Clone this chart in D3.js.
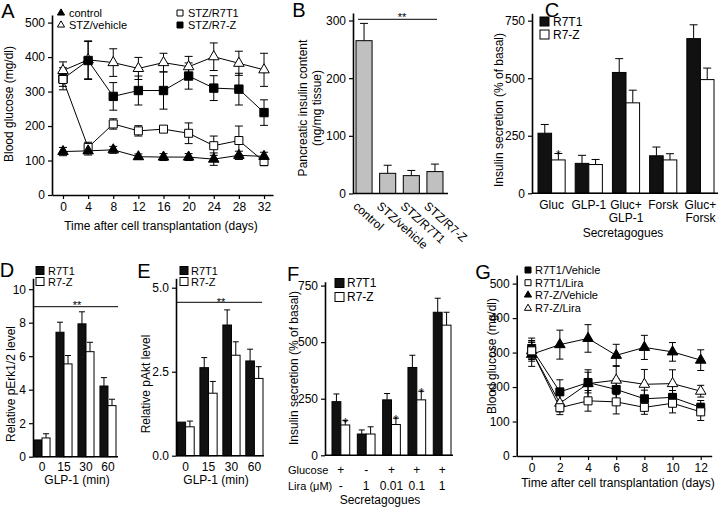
<!DOCTYPE html>
<html><head><meta charset="utf-8">
<script src="https://cdn.jsdelivr.net/npm/d3@7"></script>
<style>
body{margin:0;background:#fff;}
svg{font-family:"Liberation Sans",Arial,Helvetica,sans-serif;}
</style></head><body>
<svg id="chart" width="720" height="507"></svg>
<script>
// ---------- DATA ----------
// Panel A
const daysA = [0, 4, 8, 12, 16, 20, 24, 28, 32];
const aControl = [126, 128, 131, 111, 110, 110, 104, 115, 112];
const aControlErr = [12, 12, 10, 8, 10, 10, 18, 12, 12];
const aVehicle = [361, 392, 384, 367, 384, 372, 401, 382, 363];
const aVehicleErr = [25, 55, 40, 32, 27, 30, 40, 35, 48];
const aR7T1 = [335, 138, 206, 186, 191, 179, 143, 158, 97];
const aR7T1Err = [20, 15, 15, 15, 8, 30, 28, 42, 12];
const aR7Z = [337, 390, 286, 303, 303, 345, 310, 307, 239];
const aR7ZErr = [32, 55, 40, 42, 54, 38, 36, 46, 37];
const aTicksY = [0, 100, 200, 300, 400, 500];

// Panel B
const bCats = ["control", "STZ/vehicle", "STZ/R7T1", "STZ/R7-Z"];
const bVals = [265, 35, 31, 38];
const bErr = [30, 14, 9, 13];
const bTicksY = [0, 100, 200, 300];

// Panel C
const cCats = ["Gluc", "GLP-1", "Gluc+|GLP-1", "Forsk", "Gluc+|Forsk"];
const cR7T1 = [261, 130, 525, 163, 672];
const cR7T1Err = [38, 35, 60, 38, 60];
const cR7Z = [145, 125, 393, 145, 494];
const cR7ZErr = [28, 22, 55, 27, 50];
const cStar = [true, false, false, false, false];
const cTicksY = [0, 250, 500, 750];

// Panel D
const dTimes = ["0", "15", "30", "60"];
const dR7T1 = [1.0, 7.43, 7.93, 4.22];
const dR7T1Err = [0, 0.6, 0.72, 0.5];
const dR7Z = [1.12, 5.54, 6.27, 3.05];
const dR7ZErr = [0.25, 0.5, 0.56, 0.38];
const dTicksY = [0, 2, 4, 6, 8, 10];

// Panel E
const eTimes = ["0", "15", "30", "60"];
const eR7T1 = [1.0, 2.62, 3.89, 2.82];
const eR7T1Err = [0, 0.3, 0.45, 0.35];
const eR7Z = [0.86, 1.86, 2.99, 2.3];
const eR7ZErr = [0.17, 0.35, 0.4, 0.35];
const eTicksY = [0, 2.5, 5.0];

// Panel F
const fGlucose = ["+", "-", "+", "+", "+"];
const fLira = ["-", "1", "0.01", "0.1", "1"];
const fR7T1 = [237, 94, 245, 388, 632];
const fR7T1Err = [34, 18, 28, 54, 62];
const fR7Z = [134, 94, 136, 245, 575];
const fR7ZErr = [19, 32, 28, 38, 57];
const fStar = [true, false, true, true, false];
const fTicksY = [0, 250, 500, 750];

// Panel G
const daysG = [0, 2, 4, 6, 8, 10, 12];
const gR7T1Veh = [312, 186, 213, 193, 166, 170, 141];
const gR7T1VehErr = [30, 35, 30, 30, 25, 20, 20];
const gR7T1Lira = [305, 140, 160, 157, 141, 153, 128];
const gR7T1LiraErr = [25, 20, 30, 35, 20, 28, 25];
const gR7ZVeh = [295, 323, 341, 292, 315, 302, 278];
const gR7ZVehErr = [35, 42, 40, 32, 35, 27, 30];
const gR7ZLira = [305, 153, 210, 220, 208, 210, 188];
const gR7ZLiraErr = [30, 25, 40, 42, 43, 40, 17];
const gTicksY = [0, 100, 200, 300, 400, 500];

// ---------- HELPERS ----------
const FONT = '"Liberation Sans", Arial, Helvetica, sans-serif';
const FS = 12;
const svg = d3.select("#chart");

function styleAxis(ax) {
  ax.attr("font-family", FONT).attr("font-size", FS);
  ax.select(".domain").attr("stroke", "#000").attr("stroke-width", 1.6);
  ax.selectAll(".tick line").attr("stroke", "#000").attr("stroke-width", 1.2);
  ax.selectAll(".tick text").attr("fill", "#000");
}
function yAxis(y, x0, ticks, fmt) {
  const ax = svg.append("g").attr("transform", `translate(${x0},0)`)
    .call(d3.axisLeft(y).tickValues(ticks).tickSize(4).tickSizeOuter(0).tickPadding(3)
      .tickFormat(fmt || d3.format("d")));
  styleAxis(ax);
  return ax;
}
function hLine(x1, x2, yv, w) {
  svg.append("line").attr("x1", x1).attr("x2", x2).attr("y1", yv).attr("y2", yv)
    .attr("stroke", "#000").attr("stroke-width", w || 1.6);
}
function txt(x, y, s, opt) {
  opt = opt || {};
  const t = svg.append("text").attr("x", x).attr("y", y).text(s)
    .attr("font-size", opt.size || FS).attr("fill", "#000")
    .attr("text-anchor", opt.anchor || "start");
  if (opt.rot) t.attr("transform", `rotate(${opt.rot},${x},${y})`);
  return t;
}
function panelLetter(x, y, s) { txt(x, y, s, {size: 20, anchor: "middle"}); }
function yTitle(x, y, s) { txt(x, y, s, {anchor: "middle", rot: -90}).attr("dy", "0.35em"); }

function errUp(cx, yTop, yBot, w) {
  svg.append("line").attr("x1", cx).attr("x2", cx).attr("y1", yBot).attr("y2", yTop)
    .attr("stroke", "#000").attr("stroke-width", 1);
  svg.append("line").attr("x1", cx - w / 2).attr("x2", cx + w / 2).attr("y1", yTop).attr("y2", yTop)
    .attr("stroke", "#000").attr("stroke-width", 1);
}

function groupedBars(xb, y, cats, series, capW, stars) {
  const xs = d3.scaleBand().domain(d3.range(series.length)).range([0, xb.bandwidth()]);
  series.forEach((s, si) => {
    cats.forEach((c, i) => {
      const v = s.vals[i], e = s.err[i];
      const cx = xb(c) + xs(si) + xs.bandwidth() / 2;
      if (e > 0) errUp(cx, y(v + e), y(v), capW);
      if (stars && si === 1 && stars[i]) {
        txt(cx, y(v + e) + 6, "*", {size: 12, anchor: "middle"});
      }
    });
    svg.append("g").selectAll("rect").data(s.vals).join("rect")
      .attr("x", (d, i) => xb(cats[i]) + xs(si))
      .attr("y", d => y(d))
      .attr("width", xs.bandwidth())
      .attr("height", d => y(0) - y(d))
      .attr("fill", s.fill).attr("stroke", "#000").attr("stroke-width", 1);
  });
  return xs;
}

function linePanel(x, y, days, series, capW) {
  series.forEach(s => {
    days.forEach((d, i) => {
      const cx = x(d);
      const y1 = y(s.vals[i] + s.err[i]), y2 = y(s.vals[i] - s.err[i]);
      svg.append("line").attr("x1", cx).attr("x2", cx).attr("y1", y1).attr("y2", y2)
        .attr("stroke", "#000").attr("stroke-width", 1);
      [y1, y2].forEach(yy => svg.append("line").attr("x1", cx - capW / 2).attr("x2", cx + capW / 2)
        .attr("y1", yy).attr("y2", yy).attr("stroke", "#000").attr("stroke-width", 1));
    });
  });
  series.forEach(s => {
    svg.append("path").datum(s.vals)
      .attr("d", d3.line().x((d, i) => x(days[i])).y(d => y(d)))
      .attr("fill", "none").attr("stroke", "#000").attr("stroke-width", 1);
  });
  series.forEach(s => {
    svg.append("g").selectAll("path").data(s.vals).join("path")
      .attr("transform", (d, i) => `translate(${x(days[i])},${y(d)})`)
      .attr("d", d3.symbol().type(s.sym).size(s.size))
      .attr("fill", s.fill).attr("stroke", "#000").attr("stroke-width", 1);
  });
}
function legendSym(x, y, sym, size, fill, label, tx, fs) {
  svg.append("path").attr("transform", `translate(${x},${y})`)
    .attr("d", d3.symbol().type(sym).size(size))
    .attr("fill", fill).attr("stroke", "#000").attr("stroke-width", 1);
  txt(tx, y + 4, label, {size: fs || FS});
}
function legendRect(x, y, s, fill, label, tx, fs) {
  svg.append("rect").attr("x", x).attr("y", y - s / 2).attr("width", s).attr("height", s)
    .attr("fill", fill).attr("stroke", "#000").attr("stroke-width", 1);
  txt(tx, y + 4, label, {size: fs || FS});
}

// ---------- PANEL A ----------
{
  const x = d3.scaleLinear().domain([-1.75, 33.43]).range([52, 273]);
  const y = d3.scaleLinear().domain([0, 522]).range([195, 15]);
  yAxis(y, 52, aTicksY);
  const ax = svg.append("g").attr("transform", "translate(0,195)")
    .call(d3.axisBottom(x).tickValues(daysA).tickSize(4).tickSizeOuter(0).tickPadding(3));
  styleAxis(ax);
  linePanel(x, y, daysA, [
    {vals: aVehicle, err: aVehicleErr, sym: d3.symbolTriangle, size: 48, fill: "#fff"},
    {vals: aR7Z, err: aR7ZErr, sym: d3.symbolSquare, size: 70, fill: "#000"},
    {vals: aR7T1, err: aR7T1Err, sym: d3.symbolSquare, size: 64, fill: "#fff"},
    {vals: aControl, err: aControlErr, sym: d3.symbolTriangle, size: 48, fill: "#000"}
  ], 8);
  panelLetter(8, 18, "A");
  yTitle(9, 104, "Blood glucose (mg/dl)");
  txt(161, 230, "Time after cell transplantation (days)", {anchor: "middle"});
  legendSym(61, 13, d3.symbolTriangle, 22, "#000", "control", 69, 11);
  legendSym(61, 25, d3.symbolTriangle, 22, "#fff", "STZ/vehicle", 69, 11);
  legendSym(180, 13, d3.symbolSquare, 36, "#fff", "STZ/R7T1", 188, 11);
  legendSym(180, 25, d3.symbolSquare, 36, "#000", "STZ/R7-Z", 188, 11);
}

// ---------- PANEL B ----------
{
  const y = d3.scaleLinear().domain([0, 313]).range([193.5, 13]);
  const xb = d3.scaleBand().domain(bCats).range([356, 443]).paddingInner(0.32);
  bCats.forEach((c, i) => errUp(xb(c) + xb.bandwidth() / 2, y(bVals[i] + bErr[i]), y(bVals[i]), 8));
  svg.append("g").selectAll("rect").data(bVals).join("rect")
    .attr("x", (d, i) => xb(bCats[i])).attr("y", d => y(d))
    .attr("width", xb.bandwidth()).attr("height", d => y(0) - y(d))
    .attr("fill", "#c0c0c0").attr("stroke", "#000").attr("stroke-width", 1);
  yAxis(y, 353, bTicksY);
  hLine(353, 448, y(0));
  bCats.forEach(c => {
    const cx = xb(c) + xb.bandwidth() / 2 - 6;
    txt(cx, 201, c, {rot: 42}).attr("dy", "0.7em");
  });
  hLine(358, 437, 19.3, 1);
  txt(402, 21, "**", {size: 11, anchor: "middle"});
  panelLetter(299, 17, "B");
  yTitle(302.5, 108, "Pancreatic insulin content");
  yTitle(317, 108, "(ng/mg tissue)");
}

// ---------- PANEL C ----------
{
  const y = d3.scaleLinear().domain([0, 782]).range([193.3, 13.3]);
  const xb = d3.scaleBand().domain(cCats).range([538, 714]).paddingInner(0.27);
  groupedBars(xb, y, cCats, [
    {vals: cR7T1, err: cR7T1Err, fill: "#111"},
    {vals: cR7Z, err: cR7ZErr, fill: "#fff"}
  ], 8, cStar);
  yAxis(y, 532, cTicksY);
  hLine(532, 718, y(0));
  cCats.forEach(c => {
    const cx = xb(c) + xb.bandwidth() / 2;
    c.split("|").forEach((line, k) => txt(cx, 209 + k * 13, line, {anchor: "middle"}));
  });
  txt(623, 237, "Secretagogues", {anchor: "middle"});
  panelLetter(552, 17, "C");
  yTitle(498.5, 110, "Insulin secretion (% of basal)");
  legendRect(540, 21.5, 9, "#111", "R7T1", 553);
  legendRect(540, 34.5, 9, "#fff", "R7-Z", 553);
}

// ---------- PANEL D ----------
{
  const y = d3.scaleLinear().domain([0, 10.65]).range([456.7, 278.3]);
  const xb = d3.scaleBand().domain(dTimes).range([34, 116]).paddingInner(0.27);
  groupedBars(xb, y, dTimes, [
    {vals: dR7T1, err: dR7T1Err, fill: "#111"},
    {vals: dR7Z, err: dR7ZErr, fill: "#fff"}
  ], 6, null);
  yAxis(y, 33, dTicksY);
  hLine(33, 118, y(0));
  dTimes.forEach(c => txt(xb(c) + xb.bandwidth() / 2, 471, c, {anchor: "middle"}));
  txt(77, 484, "GLP-1 (min)", {anchor: "middle"});
  hLine(33, 118, 306.7, 1);
  txt(77, 309, "**", {size: 11, anchor: "middle"});
  panelLetter(7, 277, "D");
  yTitle(11, 384, "Relative pErk1/2 level");
  legendRect(36, 270.5, 8, "#111", "R7T1", 48, 11);
  legendRect(36, 281.5, 8, "#fff", "R7-Z", 48, 11);
}

// ---------- PANEL E ----------
{
  const y = d3.scaleLinear().domain([0, 5.28]).range([455.7, 278.3]);
  const xb = d3.scaleBand().domain(eTimes).range([177, 263]).paddingInner(0.25);
  groupedBars(xb, y, eTimes, [
    {vals: eR7T1, err: eR7T1Err, fill: "#111"},
    {vals: eR7Z, err: eR7ZErr, fill: "#fff"}
  ], 6, null);
  yAxis(y, 176, eTicksY, d3.format(".1f"));
  hLine(176, 264, y(0));
  eTimes.forEach(c => txt(xb(c) + xb.bandwidth() / 2, 471, c, {anchor: "middle"}));
  txt(216, 484, "GLP-1 (min)", {anchor: "middle"});
  hLine(176, 262, 302.3, 1);
  txt(221, 306, "**", {size: 11, anchor: "middle"});
  panelLetter(144, 278, "E");
  yTitle(146, 384, "Relative pAkt level");
  legendRect(180, 270.5, 8, "#111", "R7T1", 191, 11);
  legendRect(180, 281.5, 8, "#fff", "R7-Z", 191, 11);
}

// ---------- PANEL F ----------
{
  const y = d3.scaleLinear().domain([0, 767]).range([455.3, 281.7]);
  const cats = d3.range(fLira.length).map(String);
  const xb = d3.scaleBand().domain(cats).range([332, 451]).paddingInner(0.3);
  groupedBars(xb, y, cats, [
    {vals: fR7T1, err: fR7T1Err, fill: "#111"},
    {vals: fR7Z, err: fR7ZErr, fill: "#fff"}
  ], 6, fStar);
  yAxis(y, 325, fTicksY);
  hLine(325, 453, y(0));
  txt(288, 474, "Glucose", {size: 11});
  txt(288, 490, "Lira (\u03BCM)", {size: 11});
  cats.forEach((c, i) => {
    const cx = xb(c) + xb.bandwidth() / 2;
    txt(cx, 474, fGlucose[i], {anchor: "middle"});
    txt(cx, 490, fLira[i], {anchor: "middle"});
  });
  txt(380, 504, "Secretagogues", {anchor: "middle"});
  panelLetter(293, 281, "F");
  yTitle(294, 368, "Insulin secretion (% of basal)");
  legendRect(335, 283, 9, "#111", "R7T1", 347);
  legendRect(335, 297, 9, "#fff", "R7-Z", 347);
}

// ---------- PANEL G ----------
{
  const x = d3.scaleLinear().domain([-1.065, 12.78]).range([516.7, 711.7]);
  const y = d3.scaleLinear().domain([0, 525]).range([456, 275]);
  yAxis(y, 516.7, gTicksY);
  const ax = svg.append("g").attr("transform", "translate(0,456)")
    .call(d3.axisBottom(x).tickValues(daysG).tickSize(4).tickSizeOuter(0).tickPadding(3));
  styleAxis(ax);
  linePanel(x, y, daysG, [
    {vals: gR7ZVeh, err: gR7ZVehErr, sym: d3.symbolTriangle, size: 48, fill: "#000"},
    {vals: gR7ZLira, err: gR7ZLiraErr, sym: d3.symbolTriangle, size: 48, fill: "#fff"},
    {vals: gR7T1Veh, err: gR7T1VehErr, sym: d3.symbolSquare, size: 64, fill: "#000"},
    {vals: gR7T1Lira, err: gR7T1LiraErr, sym: d3.symbolSquare, size: 64, fill: "#fff"}
  ], 7);
  panelLetter(483, 279, "G");
  yTitle(491.5, 356, "Blood glucose (mg/dl)");
  txt(618, 487, "Time after cell transplantation (days)", {anchor: "middle"});
  legendSym(528, 270, d3.symbolSquare, 36, "#000", "R7T1/Vehicle", 535, 11);
  legendSym(528, 282.7, d3.symbolSquare, 36, "#fff", "R7T1/Lira", 535, 11);
  legendSym(528, 295, d3.symbolTriangle, 22, "#000", "R7-Z/Vehicle", 535, 11);
  legendSym(528, 308.3, d3.symbolTriangle, 22, "#fff", "R7-Z/Lira", 535, 11);
}
</script>
</body></html>
